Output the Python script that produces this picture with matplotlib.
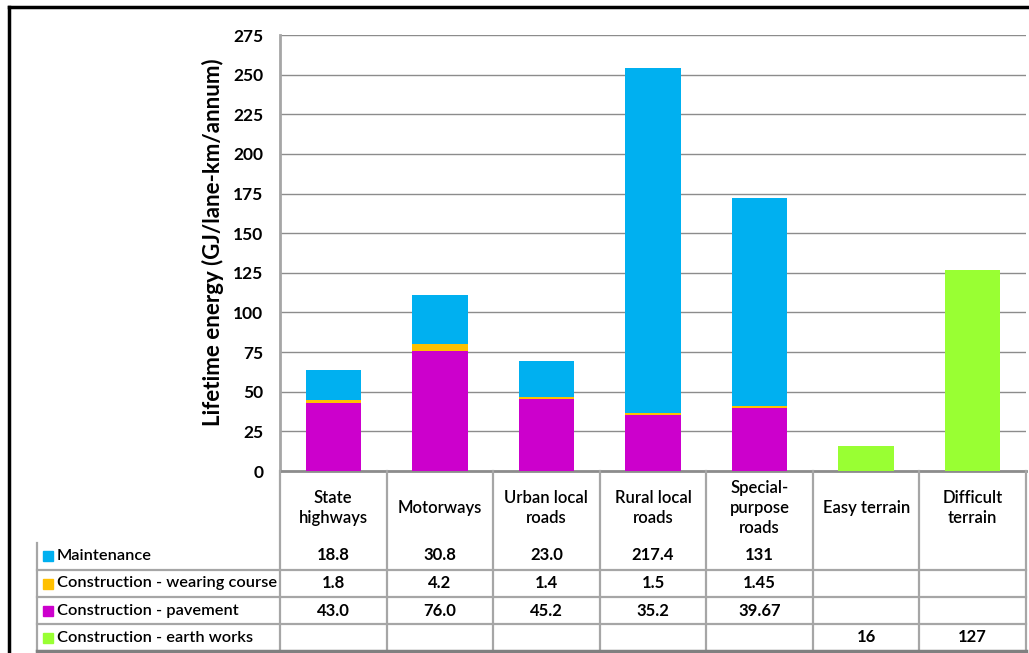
import numpy as np
import matplotlib
matplotlib.use("Agg")
import matplotlib.pyplot as plt
from matplotlib.lines import Line2D
from matplotlib.patches import Rectangle

plt.rcParams['font.family'] = ['Lato', 'DejaVu Sans']

# categories and table values (as printed in the data table)
categories = ["State\nhighways", "Motorways", "Urban local\nroads", "Rural local\nroads",
              "Special-\npurpose\nroads", "Easy terrain", "Difficult\nterrain"]
maintenance = ["18.8", "30.8", "23.0", "217.4", "131", "", ""]
wearing = ["1.8", "4.2", "1.4", "1.5", "1.45", "", ""]
pavement = ["43.0", "76.0", "45.2", "35.2", "39.67", "", ""]
earthworks = ["", "", "", "", "", "16", "127"]

series_names = ["Maintenance", "Construction - wearing course",
                "Construction - pavement", "Construction - earth works"]
series_colors = ["#00B0F0", "#FFC000", "#CC00CC", "#99FF33"]
yticks = [0, 25, 50, 75, 100, 125, 150, 175, 200, 225, 250, 275]


def num(vals):
    return np.array([float(v) if v else 0.0 for v in vals])


W, H = 1029, 653
fig = plt.figure(figsize=(W / 100, H / 100), dpi=100)

# plot area in pixel bounds
x0, x1, ytop, ybot = 280, 1026, 35, 471
ax = fig.add_axes([x0 / W, (H - ybot) / H, (x1 - x0) / W, (ybot - ytop) / H])

x = np.arange(len(categories))
bw = 0.52
bottom = np.zeros(len(categories))
# stack from bottom: pavement, wearing course, maintenance, earth works
for vals, col in [(pavement, series_colors[2]), (wearing, series_colors[1]),
                  (maintenance, series_colors[0]), (earthworks, series_colors[3])]:
    v = num(vals)
    ax.bar(x, v, bw, bottom=bottom, color=col, zorder=3, linewidth=0)
    bottom += v

ax.set_xlim(-0.5, len(categories) - 0.5)
ax.set_ylim(0, 275)
ax.set_yticks(yticks)
ax.set_xticks([])
ax.tick_params(axis='y', length=0, pad=12, labelsize=12.5)
for lbl in ax.get_yticklabels():
    lbl.set_fontweight('bold')
ax.yaxis.grid(True, color='#8C8C8C', lw=1, zorder=0)
for s in ['top', 'right']:
    ax.spines[s].set_visible(False)
ax.spines['left'].set_color('#A6A6A6')
ax.spines['left'].set_linewidth(2)
ax.spines['bottom'].set_color('#8C8C8C')
ax.spines['bottom'].set_linewidth(2)
ax.set_ylabel("Lifetime energy (GJ/lane-km/annum)", fontsize=16,
              fontweight='bold', va='center')
ax.yaxis.set_label_coords(-0.09, 0.525)

# data table below the plot
tab_bot = 651
tax = fig.add_axes([x0 / W, (H - tab_bot) / H, (x1 - x0) / W, (tab_bot - ybot) / H])
tax.set_xlim(-0.5, len(categories) - 0.5)
tax.set_ylim(tab_bot - ybot, 0)
tax.axis('off')

colw = (x1 - x0) / len(categories)
left_edge = -0.5 - (x0 - 37) / colw
rows = [72, 99, 126, 153, 180]
grid_kw = dict(color='#A6A6A6', lw=1.6, clip_on=False)

for b in np.arange(len(categories) + 1) - 0.5:
    tax.plot([b, b], [0, rows[-1]], **grid_kw)
tax.plot([left_edge, left_edge], [rows[0], rows[-1]], **grid_kw)
for r in rows[1:-1]:
    tax.plot([left_edge, len(categories) - 0.5], [r, r], **grid_kw)
tax.plot([left_edge, len(categories) - 0.5], [rows[-1], rows[-1]],
         color='#808080', lw=2.5, clip_on=False)

for i, c in enumerate(categories):
    tax.text(i, 37, c, ha='center', va='center', fontsize=12,
             fontweight='semibold', linespacing=1.3)

table_rows = [maintenance, wearing, pavement, earthworks]
for j, (vals, name, col) in enumerate(zip(table_rows, series_names, series_colors)):
    yc = (rows[j] + rows[j + 1]) / 2 + (-1 if j == 0 else 0)
    for i, v in enumerate(vals):
        tax.text(i, yc, v, ha='center', va='center', fontsize=12, fontweight='bold')
    tax.add_patch(Rectangle((left_edge + 6 / colw, yc - 5), 10 / colw, 10,
                            color=col, clip_on=False))
    tax.text(left_edge + 20 / colw, yc, name, ha='left', va='center',
             fontsize=11.8, fontweight='semibold')

# outer frame (left and top)
fig.add_artist(Line2D([9 / W, 9 / W], [0, 1 - 7 / H], color='black', lw=2.5,
                      transform=fig.transFigure))
fig.add_artist(Line2D([9 / W, 1], [1 - 7 / H, 1 - 7 / H], color='black', lw=2.5,
                      transform=fig.transFigure))

fig.savefig("out.png", dpi=100)
